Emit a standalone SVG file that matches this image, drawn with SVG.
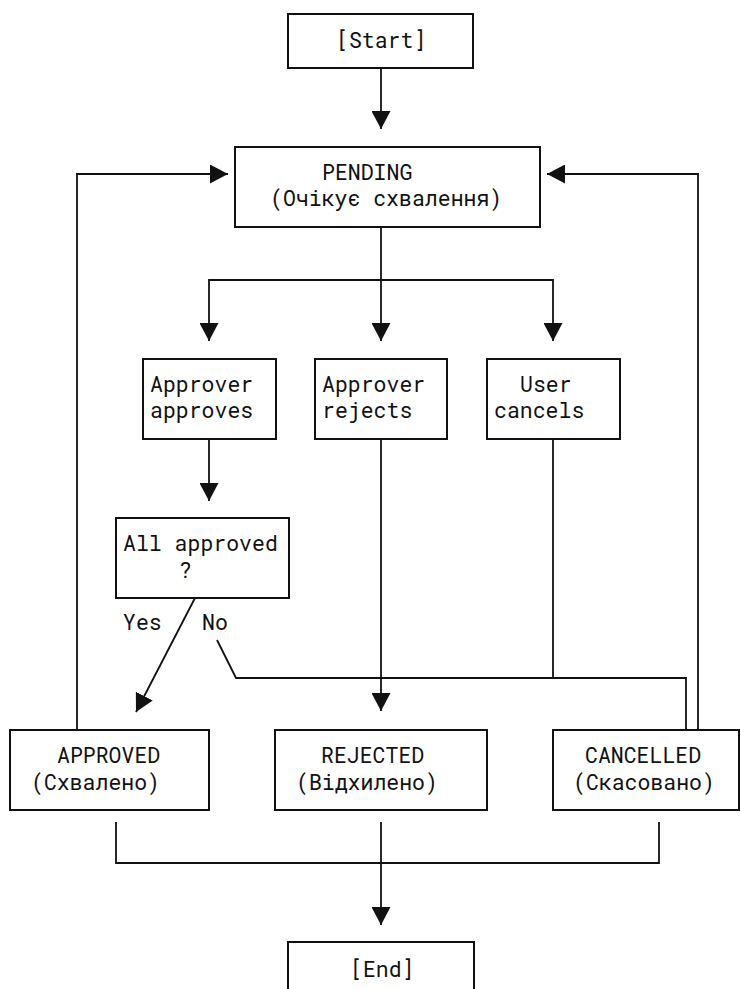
<svg xmlns="http://www.w3.org/2000/svg" width="741" height="989" viewBox="0 0 741 989">
  <style>
    .box { fill: #ffffff; stroke: #111111; stroke-width: 2; }
    .lbl { font-family: "Roboto Mono", "DejaVu Sans Mono", "Liberation Mono", monospace; font-size: 21.5px; fill: #111111; }
    .wire { fill: none; stroke: #111111; stroke-width: 1.8; }
  </style>
  <defs>
    <marker id="head" viewBox="0 0 18 19" refX="18" refY="9.5" markerWidth="18" markerHeight="19" markerUnits="userSpaceOnUse" orient="auto">
      <path d="M0,0 L18,9.5 L0,19 Z" fill="#111111"/>
    </marker>
  </defs>
  <rect width="741" height="989" fill="#ffffff"/>

  <!-- connectors -->
  <g id="connectors">
    <!-- start to pending -->
    <path class="wire" d="M381,68 V129" marker-end="url(#head)"/>
    <!-- pending fan-out -->
    <path class="wire" d="M381,227 V341" marker-end="url(#head)"/>
    <path class="wire" d="M381,280 H209 V341" marker-end="url(#head)"/>
    <path class="wire" d="M381,280 H553 V341" marker-end="url(#head)"/>
    <!-- approves to decision -->
    <path class="wire" d="M209,439 V501" marker-end="url(#head)"/>
    <!-- yes branch -->
    <path class="wire" d="M195,598 L136,712" marker-end="url(#head)"/>
    <!-- no branch -->
    <path class="wire" d="M217,640 L236,678 H686 V730"/>
    <!-- rejects to REJECTED -->
    <path class="wire" d="M381,439 V711" marker-end="url(#head)"/>
    <!-- user cancels joins the no line -->
    <path class="wire" d="M553,439 V678 H557"/>
    <!-- loops back to pending -->
    <path class="wire" d="M77,730 V174 H228" marker-end="url(#head)"/>
    <path class="wire" d="M698,730 V174 H547" marker-end="url(#head)"/>
    <!-- terminal merge -->
    <path class="wire" d="M116,822 V863 H659 V822"/>
    <path class="wire" d="M381,822 V925" marker-end="url(#head)"/>
  </g>

  <g id="start">
    <rect class="box" x="288" y="14" width="185" height="54"/>
    <text class="lbl" x="336" y="48">[Start]</text>
  </g>

  <g id="pending">
    <rect class="box" x="235" y="147" width="305" height="80"/>
    <text class="lbl" x="322" y="180">PENDING</text>
    <text class="lbl" x="270" y="206">(Очікує схвалення)</text>
  </g>

  <g id="approver-approves">
    <rect class="box" x="143" y="359" width="133" height="80"/>
    <text class="lbl" x="150" y="392">Approver</text>
    <text class="lbl" x="150" y="418">approves</text>
  </g>

  <g id="approver-rejects">
    <rect class="box" x="315" y="359" width="132" height="80"/>
    <text class="lbl" x="322" y="392">Approver</text>
    <text class="lbl" x="322" y="418">rejects</text>
  </g>

  <g id="user-cancels">
    <rect class="box" x="487" y="359" width="133" height="80"/>
    <text class="lbl" x="520" y="392">User</text>
    <text class="lbl" x="494" y="418">cancels</text>
  </g>

  <g id="all-approved">
    <rect class="box" x="116" y="518" width="173" height="80"/>
    <text class="lbl" x="123" y="551">All approved</text>
    <text class="lbl" x="179" y="578">?</text>
  </g>

  <g id="branch-labels">
    <text class="lbl" x="123" y="630">Yes</text>
    <text class="lbl" x="202" y="630">No</text>
  </g>

  <g id="approved">
    <rect class="box" x="10" y="730" width="199" height="80"/>
    <text class="lbl" x="57" y="763">APPROVED</text>
    <text class="lbl" x="31" y="790">(Схвалено)</text>
  </g>

  <g id="rejected">
    <rect class="box" x="275" y="730" width="212" height="80"/>
    <text class="lbl" x="321" y="763">REJECTED</text>
    <text class="lbl" x="296" y="790">(Відхилено)</text>
  </g>

  <g id="cancelled">
    <rect class="box" x="553" y="730" width="186" height="80"/>
    <text class="lbl" x="585" y="763">CANCELLED</text>
    <text class="lbl" x="573" y="790">(Скасовано)</text>
  </g>

  <g id="end">
    <rect class="box" x="288" y="942" width="186" height="60"/>
    <text class="lbl" x="350" y="977">[End]</text>
  </g>
</svg>
